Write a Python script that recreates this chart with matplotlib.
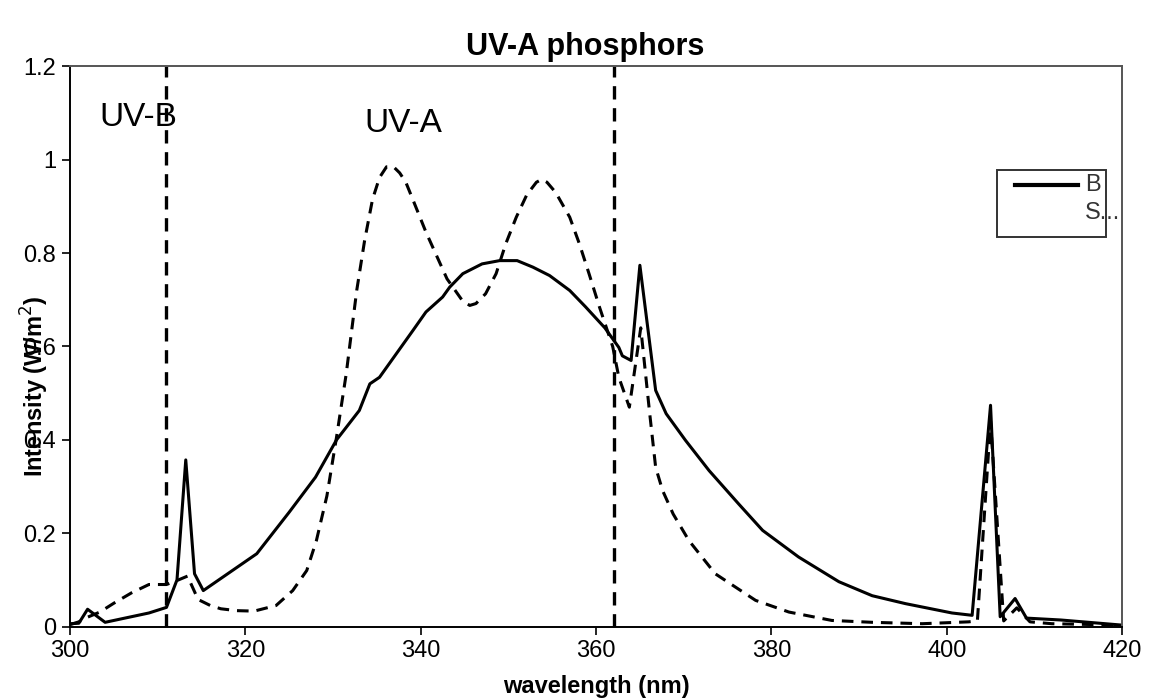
import numpy as np
import matplotlib.pyplot as plt
from matplotlib.lines import Line2D
from matplotlib.patches import Rectangle

plt.rcParams['font.family'] = ['Liberation Sans', 'DejaVu Sans']

# solid curve (B)
wl_b = [300, 301, 302, 304, 309, 311, 312.2, 313.2, 314.2, 315.2, 321.3, 325, 328,
        330.4, 333, 334.2, 335.3, 337.2, 339.1, 340.6, 342.5, 343.3, 344.8, 347, 349,
        351, 352.8, 354.7, 357, 358.8, 361, 362.6, 363, 364, 365, 366.8, 368, 370.2,
        372.9, 376.3, 379, 383.1, 387.7, 391.5, 395.3, 400.6, 402.9, 405, 406.1, 407.8,
        409.1, 413, 420]
int_b = [0.006, 0.007, 0.037, 0.009, 0.029, 0.041, 0.10, 0.357, 0.113, 0.077, 0.156, 0.245, 0.32,
         0.40, 0.463, 0.52, 0.534, 0.584, 0.634, 0.674, 0.706, 0.727, 0.756, 0.777, 0.784,
         0.784, 0.77, 0.752, 0.72, 0.685, 0.64, 0.598, 0.58, 0.57, 0.774, 0.506, 0.456, 0.399,
         0.334, 0.262, 0.206, 0.149, 0.096, 0.066, 0.049, 0.029, 0.024, 0.474, 0.021, 0.06,
         0.018, 0.014, 0.003]

# dashed curve (S)
wl_s = [300, 301, 302, 303.4, 305, 307, 309, 311, 312, 313.4, 314.6, 316, 317.2, 319, 321,
        323.5, 325.4, 327, 328.1, 329.3, 330.4, 331.5, 332.7, 333.6, 334.5, 335.3, 336.1,
        336.9, 337.6, 338.3, 339.1, 340.6, 341.8, 343, 344.8, 345.6, 346.3, 347.4, 348.6,
        349.7, 350.9, 352.1, 353.2, 353.8, 354.4, 355.4, 357, 358.1, 359.2, 360.4, 361.9,
        362.6, 363.8, 365.1, 366.1, 366.8, 367.6, 368.8, 370.6, 373.6, 378.2, 382, 386.9,
        391.5, 397.2, 402.5, 403.5, 405, 406.5, 408, 409.5, 412, 420]
int_s = [0.004, 0.01, 0.02, 0.031, 0.05, 0.072, 0.09, 0.09, 0.097, 0.108, 0.058, 0.045, 0.038,
         0.034, 0.033, 0.045, 0.077, 0.12, 0.184, 0.28, 0.406, 0.541, 0.72, 0.827, 0.915, 0.962,
         0.985, 0.985, 0.972, 0.952, 0.915, 0.845, 0.795, 0.745, 0.697, 0.688, 0.692, 0.713,
         0.756, 0.82, 0.877, 0.925, 0.952, 0.958, 0.952, 0.93, 0.877, 0.82, 0.756, 0.684,
         0.60, 0.534, 0.47, 0.64, 0.46, 0.341, 0.291, 0.241, 0.184, 0.113, 0.056, 0.031, 0.013,
         0.009, 0.006, 0.01, 0.012, 0.44, 0.012, 0.04, 0.01, 0.006, 0.003]

band_edges = [311, 362]
x_ticks = [300, 320, 340, 360, 380, 400, 420]
y_ticks = [0, 0.2, 0.4, 0.6, 0.8, 1.0, 1.2]

fig = plt.figure(figsize=(11.54, 6.99), dpi=100)
ax = fig.add_axes([0.0607, 0.1037, 0.9116, 0.8012])

ax.plot(wl_s, int_s, color='black', lw=2.2, ls=(0, (3.8, 2.6)))
line_b, = ax.plot(wl_b, int_b, color='black', lw=2.2)
for xe in band_edges:
    ax.axvline(xe, color='black', lw=2.4, ls=(0, (4, 2.6)))

ax.set_xlim(300, 420)
ax.set_ylim(0, 1.2)
ax.set_xticks(x_ticks)
ax.set_yticks(y_ticks)
ax.set_yticklabels([f'{v:g}' for v in y_ticks])
ax.tick_params(direction='out', length=6, width=1.2, labelsize=17, pad=4)

for s in ['left', 'bottom']:
    ax.spines[s].set_linewidth(1.4)
for s in ['top', 'right']:
    ax.spines[s].set_color('#555555')
    ax.spines[s].set_linewidth(1.4)

ax.set_title('UV-A phosphors', fontsize=22, fontweight='bold', pad=8, x=0.49)
ax.set_xlabel('wavelength (nm)', fontsize=17, fontweight='bold')
ax.set_ylabel('Intensity (W/m$^2$)', fontsize=17, fontweight='bold')
ax.xaxis.set_label_coords(0.5, -0.086)
ax.yaxis.set_label_coords(-0.018, 0.43)

ax.text(303.4, 1.09, 'UV-B', fontsize=24, va='center', ha='left')
ax.text(333.6, 1.078, 'UV-A', fontsize=24, va='center', ha='left')

# legend box drawn by hand so the second label can run past the frame
ax.add_patch(Rectangle((0.881, 0.696), 0.104, 0.119, transform=ax.transAxes,
                       facecolor='white', edgecolor='#333333', lw=1.4, zorder=5))
ax.add_line(Line2D([0.898, 0.958], [0.788, 0.788], transform=ax.transAxes,
                   color='black', lw=3, zorder=6))
ax.text(0.965, 0.788, 'B', transform=ax.transAxes, fontsize=17, va='center',
        color='#333333', zorder=6)
ax.text(0.965, 0.738, 'S...', transform=ax.transAxes, fontsize=17, va='center',
        color='#333333', zorder=6)

fig.savefig('out.png', dpi=100)
